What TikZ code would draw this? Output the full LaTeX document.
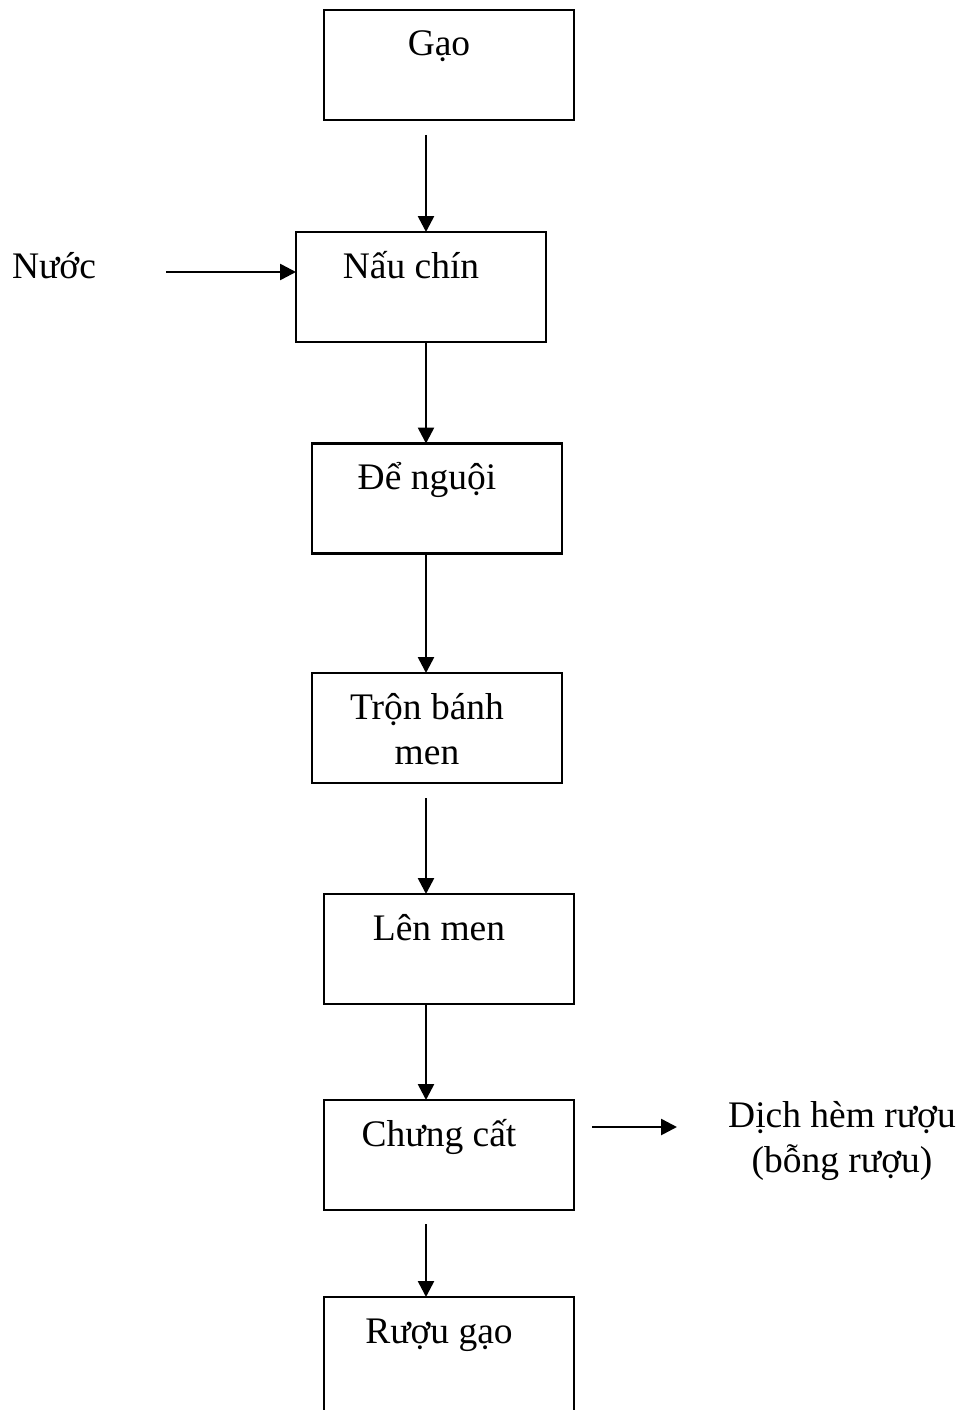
\documentclass[tikz,border=0pt]{standalone}
\usepackage{fontspec}
\setmainfont{Liberation Serif}
\usetikzlibrary{arrows.meta}

\begin{document}
\begin{tikzpicture}[x=1pt, y=-1pt,
	box/.style={draw, line width=2.2pt, minimum width=250pt, minimum height=110pt, inner sep=0pt, outer sep=0pt},
	txt/.style={anchor=base, font=\fontsize{37.5}{45}\selectfont, align=center, inner sep=0pt},
	boxtxt/.style={txt, yshift=-46pt, xshift=-10pt},
	flow/.style={line width=2.6pt, -{Triangle[length=16pt, width=16pt]}}]
	\useasboundingbox (0,0) rectangle (962,1410);
	\clip (0,0) rectangle (962,1410);

	\coordinate (axis) at (426,0);
	\coordinate (w)    at (166,272);
	\coordinate (h1)   at (592,1127);
	\coordinate (h2)   at (677,1127);

	\node[box, label={[boxtxt]north:Gạo}]             (gao)   at (449,65)   {};
	\node[box, label={[boxtxt]north:Nấu chín}]        (nau)   at (421,287)  {};
	\node[box, label={[boxtxt]north:Để nguội}]        (nguoi) at (437,498.5) {};
	\node[box, label={[boxtxt, yshift=-45pt]north:Trộn bánh\\men}] (tron) at (437,728) {};
	\node[box, label={[boxtxt]north:Lên men}]         (len)   at (449,949)  {};
	\node[box, label={[boxtxt]north:Chưng cất}]       (chung) at (449,1155) {};
	\node[box, minimum height=130pt, label={[boxtxt]north:Rượu gạo}] (ruou) at (449,1362) {};

	\node[txt] (nuoc) at (54,278)   {Nước};
	\node[txt] (hem)  at (842,1172) {Dịch hèm rượu\\(bỗng rượu)};

	\draw[flow, shorten <=15pt] (gao.south -| axis)   -- (nau.north -| axis);
	\draw[flow]                 (nau.south -| axis)   -- (nguoi.north -| axis);
	\draw[flow]                 (nguoi.south -| axis) -- (tron.north -| axis);
	\draw[flow, shorten <=15pt] (tron.south -| axis)  -- (len.north -| axis);
	\draw[flow]                 (len.south -| axis)   -- (chung.north -| axis);
	\draw[flow, shorten <=14pt] (chung.south -| axis) -- (ruou.north -| axis);

	\draw[flow] (w)  -- (w -| nau.west);
	\draw[flow] (h1) -- (h2);
\end{tikzpicture}
\end{document}
